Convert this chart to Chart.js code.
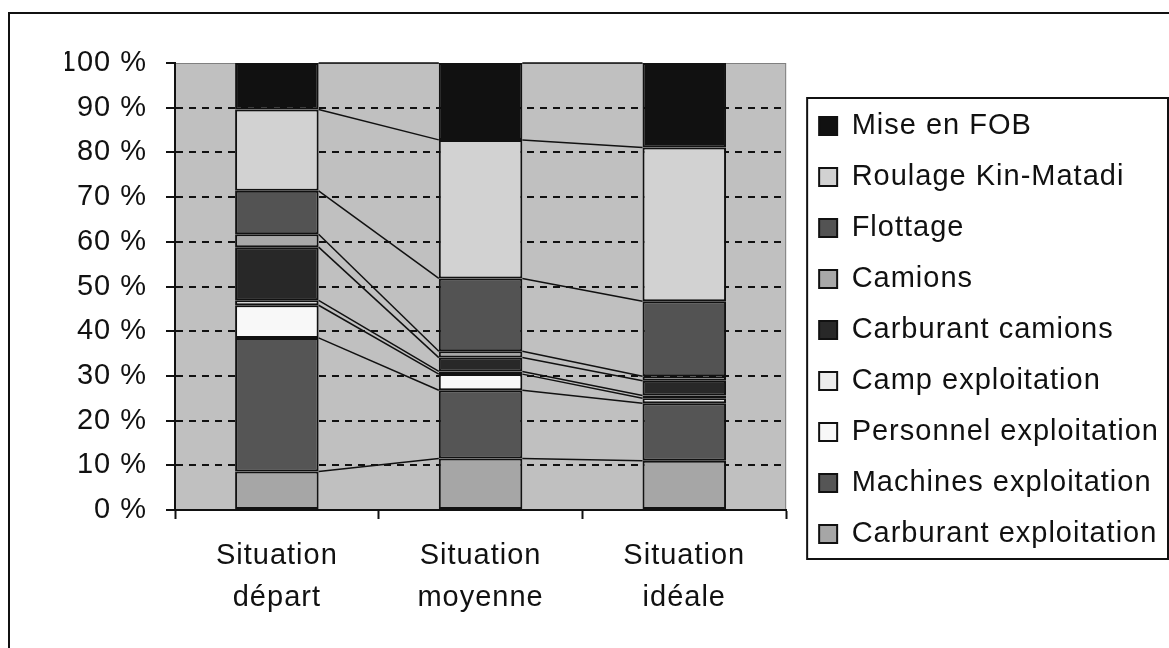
<!DOCTYPE html>
<html>
<head>
<meta charset="utf-8">
<script src="https://cdn.jsdelivr.net/npm/chart.js@4.4.1/dist/chart.umd.min.js"></script>
<style>
  html, body { margin: 0; padding: 0; background: #fff; }
  #wrap { width: 1169px; height: 648px; }
</style>
</head>
<body>
<div id="wrap"><canvas id="graphique" width="1169" height="648"></canvas></div>
<script>
// Données (en % du coût total)
const categories = [['Situation', 'départ'], ['Situation', 'moyenne'], ['Situation', 'idéale']];
const yTicks = [0, 10, 20, 30, 40, 50, 60, 70, 80, 90, 100];

const carburantExploitation = [8.6, 11.5, 11.0];
const machinesExploitation = [29.9, 15.3, 12.9];
const personnelExploitation = [7.3, 3.6, 1.1];
const campExploitation = [1.1, 0.6, 0.6];
const carburantCamions = [11.9, 3.1, 3.3];
const camions = [2.9, 1.4, 1.0];
const flottage = [9.7, 16.3, 16.8];
const roulageKinMatadi = [18.2, 31.0, 34.4];
const miseEnFob = [10.4, 17.2, 18.9];

// du bas vers le haut de la pile
const series = [
    { nom: 'Carburant exploitation', valeurs: carburantExploitation, couleur: '#a6a6a6' },
    { nom: 'Machines exploitation', valeurs: machinesExploitation, couleur: '#555555' },
    { nom: 'Personnel exploitation', valeurs: personnelExploitation, couleur: '#f8f8f8' },
    { nom: 'Camp exploitation', valeurs: campExploitation, couleur: '#ececec' },
    { nom: 'Carburant camions', valeurs: carburantCamions, couleur: '#282828' },
    { nom: 'Camions', valeurs: camions, couleur: '#a8a8a8' },
    { nom: 'Flottage', valeurs: flottage, couleur: '#535353' },
    { nom: 'Roulage Kin-Matadi', valeurs: roulageKinMatadi, couleur: '#d2d2d2' },
    { nom: 'Mise en FOB', valeurs: miseEnFob, couleur: '#111111' }
];

const police = { family: '"Liberation Sans", Arial, sans-serif', size: 29 };
const encre = '#111111';

// fond gris de la zone de tracé + cadre extérieur
const fondZone = {
    id: 'fondZone',
    beforeUpdate(chart) { chart.ctx.letterSpacing = '1px'; },
    beforeDraw(chart) {
        const { ctx, chartArea: a } = chart;
        ctx.save();
        ctx.fillStyle = '#c0c0c0';
        ctx.fillRect(a.left, a.top, a.right - a.left, a.bottom - a.top);
        ctx.strokeStyle = '#808080';
        ctx.lineWidth = 1;
        ctx.strokeRect(a.left + 0.5, a.top + 0.5, a.right - a.left - 1, a.bottom - a.top);
        ctx.strokeStyle = encre;
        ctx.lineWidth = 2;
        ctx.strokeRect(9, 13, 1300, 800);
        ctx.restore();
    }
};

// lignes de séries entre les barres empilées
const lignesSeries = {
    id: 'lignesSeries',
    afterDatasetsDraw(chart) {
        const ctx = chart.ctx;
        ctx.save();
        ctx.strokeStyle = encre;
        ctx.lineWidth = 1.5;
        chart.data.datasets.forEach((ds, d) => {
            const barres = chart.getDatasetMeta(d).data;
            for (let i = 0; i < barres.length - 1; i++) {
                const a = barres[i].getProps(['x', 'y', 'width'], true);
                const b = barres[i + 1].getProps(['x', 'y', 'width'], true);
                ctx.beginPath();
                ctx.moveTo(a.x + a.width / 2, a.y);
                ctx.lineTo(b.x - b.width / 2, b.y);
                ctx.stroke();
            }
        });
        ctx.restore();
    }
};

// cadre de la légende
const cadreLegende = {
    id: 'cadreLegende',
    afterDraw(chart) {
        const lg = chart.legend;
        if (!lg || !lg.legendHitBoxes.length) return;
        const boites = lg.legendHitBoxes;
        const premier = boites[0], dernier = boites[boites.length - 1];
        const haut = premier.top + premier.height / 2 - 28;
        const bas = dernier.top + dernier.height / 2 + 25;
        const gauche = premier.left - 12;
        const ctx = chart.ctx;
        ctx.save();
        ctx.strokeStyle = encre;
        ctx.lineWidth = 2;
        ctx.strokeRect(gauche, haut, chart.width - 1 - gauche, bas - haut);
        ctx.restore();
    }
};

new Chart(document.getElementById('graphique'), {
    type: 'bar',
    data: {
        labels: categories,
        datasets: series.map(s => ({
            label: s.nom,
            data: s.valeurs,
            backgroundColor: s.couleur,
            borderColor: encre,
            borderWidth: 2,
            borderSkipped: false,
            barPercentage: 0.41,
            categoryPercentage: 1,
            yAxisID: 'y'
        }))
    },
    options: {
        responsive: false,
        animation: false,
        devicePixelRatio: 1,
        layout: { padding: { top: 12, left: 65, right: 0, bottom: 0 } },
        plugins: {
            title: {
                display: true,
                text: ' ',
                fullSize: false,
                color: 'rgba(0,0,0,0)',
                font: { size: 51, lineHeight: 1 },
                padding: 0
            },
            legend: {
                position: 'right',
                reverse: true,
                maxWidth: 420,
                labels: {
                    color: encre,
                    font: police,
                    boxWidth: 18,
                    boxHeight: 18,
                    padding: 22
                }
            },
            tooltip: { enabled: false }
        },
        scales: {
            x: {
                stacked: true,
                grid: {
                    display: true,
                    drawOnChartArea: false,
                    offset: true,
                    tickLength: 9,
                    tickColor: encre,
                    tickWidth: 2
                },
                border: { color: encre, width: 2 },
                ticks: {
                    color: encre,
                    font: { family: police.family, size: 29, lineHeight: 1.45 },
                    padding: 16,
                    maxRotation: 0
                },
                afterFit(s) { s.height = 138; }
            },
            y: {
                stacked: true,
                min: 0,
                max: 100,
                afterBuildTicks(s) { s.ticks = yTicks.map(v => ({ value: v })); },
                grid: {
                    color: c => (c.tick && (c.tick.value === 0 || c.tick.value === 100)) ? 'rgba(0,0,0,0)' : encre,
                    lineWidth: 2,
                    tickLength: 9,
                    tickColor: encre,
                    tickWidth: 2,
                    tickBorderDash: []
                },
                border: { color: encre, width: 2, dash: [7, 6] },
                ticks: {
                    color: encre,
                    font: police,
                    padding: 19,
                    callback: v => v + ' %'
                },
                afterFit(s) { s.width = 110; }
            },
            y2: {
                position: 'right',
                display: true,
                grid: { display: false },
                border: { display: false },
                ticks: { display: false },
                afterFit(s) { s.width = 11; }
            }
        }
    },
    plugins: [fondZone, lignesSeries, cadreLegende]
});
</script>
</body>
</html>
